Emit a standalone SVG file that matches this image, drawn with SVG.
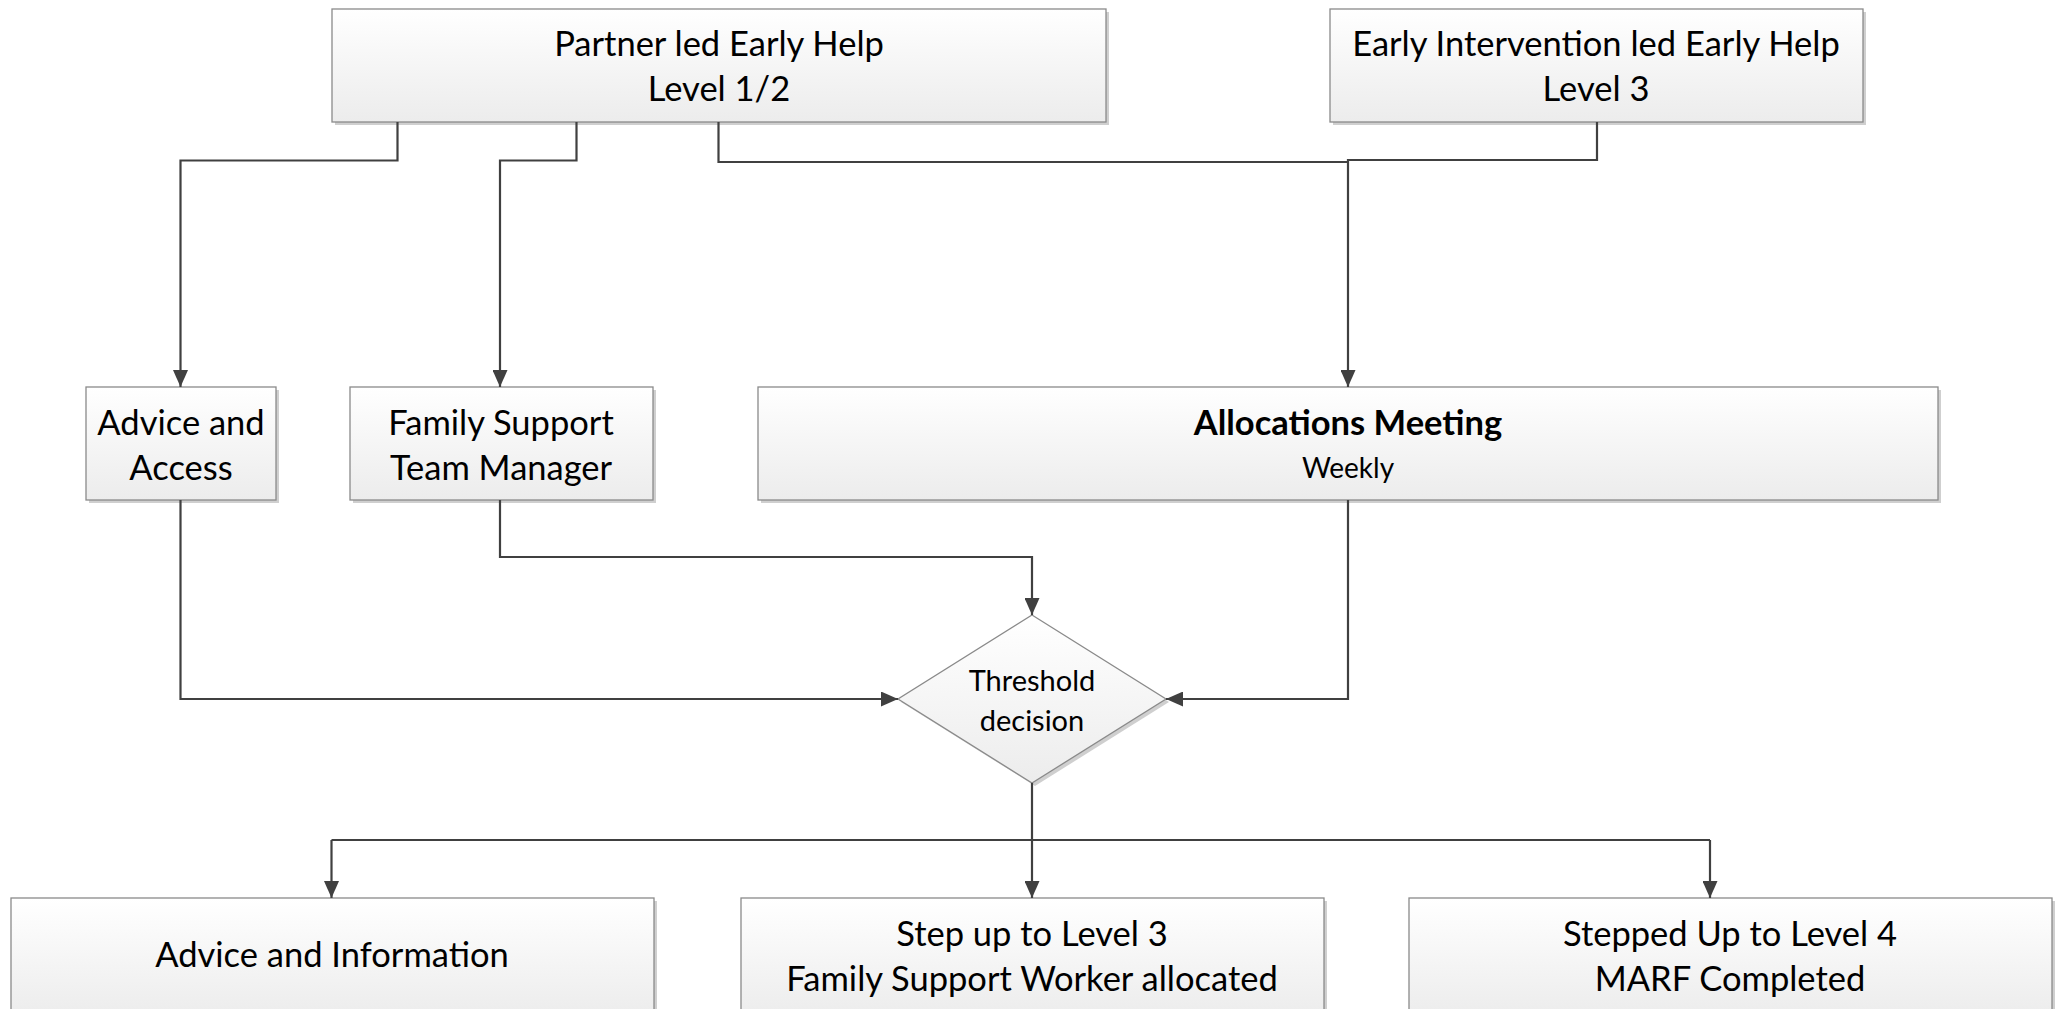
<svg xmlns="http://www.w3.org/2000/svg" width="2064" height="1009" viewBox="0 0 2064 1009">
<defs>
<linearGradient id="g" x1="0" y1="0" x2="0" y2="1">
<stop offset="0" stop-color="#ffffff"/>
<stop offset="1" stop-color="#ececec"/>
</linearGradient>
<marker id="arr" markerUnits="userSpaceOnUse" markerWidth="17" markerHeight="15" refX="17" refY="7.5" orient="auto">
<path d="M0,0 L17,7.5 L0,15 Z" fill="#404040"/>
</marker>
</defs>
<style>
.box{fill:url(#g);stroke:#8a8a8a;stroke-width:1.3}
.sh{fill:#cfcfcf}
.t{font-family:Lato,"Open Sans",sans-serif;font-size:34.5px;fill:#000;text-anchor:middle;dominant-baseline:central}
.b{font-weight:bold}
.s{font-size:28px}
.m{font-size:29px}
.c{fill:none;stroke:#404040;stroke-width:2.2;marker-end:url(#arr)}
.c2{fill:none;stroke:#404040;stroke-width:2.2}
</style>
<rect width="2064" height="1009" fill="#fff"/>

<g id="partner">
<rect class="sh" x="335" y="12" width="774" height="113"/>
<rect class="box" x="332" y="9" width="774" height="113"/>
<text class="t" x="719" y="42">Partner led Early Help</text>
<text class="t" x="719" y="87">Level 1/2</text>
</g>
<g id="early-intervention">
<rect class="sh" x="1333" y="12" width="533" height="113"/>
<rect class="box" x="1330" y="9" width="533" height="113"/>
<text class="t" x="1596" y="42">Early Intervention led Early Help</text>
<text class="t" x="1596" y="87">Level 3</text>
</g>
<g id="advice-access">
<rect class="sh" x="89" y="390" width="190" height="113"/>
<rect class="box" x="86" y="387" width="190" height="113"/>
<text class="t" x="181" y="421">Advice and</text>
<text class="t" x="181" y="466">Access</text>
</g>
<g id="fstm">
<rect class="sh" x="353" y="390" width="303" height="113"/>
<rect class="box" x="350" y="387" width="303" height="113"/>
<text class="t" x="501" y="421">Family Support</text>
<text class="t" x="501" y="466">Team Manager</text>
</g>
<g id="allocations">
<rect class="sh" x="761" y="390" width="1180" height="113"/>
<rect class="box" x="758" y="387" width="1180" height="113"/>
<text class="t b" x="1348" y="421">Allocations Meeting</text>
<text class="t s" x="1348" y="467">Weekly</text>
</g>
<g id="threshold">
<polygon class="sh" points="1035,618 1169,702 1035,786 901,702"/>
<polygon class="box" points="1032,615 1166,699 1032,783 898,699"/>
<text class="t m" x="1032" y="679">Threshold</text>
<text class="t m" x="1032" y="719">decision</text>
</g>
<g id="advice-info">
<rect class="sh" x="14" y="901" width="643" height="120"/>
<rect class="box" x="11" y="898" width="643" height="120"/>
<text class="t" x="332" y="953">Advice and Information</text>
</g>
<g id="step-up-3">
<rect class="sh" x="744" y="901" width="583" height="120"/>
<rect class="box" x="741" y="898" width="583" height="120"/>
<text class="t" x="1032" y="932">Step up to Level 3</text>
<text class="t" x="1032" y="977">Family Support Worker allocated</text>
</g>
<g id="step-up-4">
<rect class="sh" x="1412" y="901" width="643" height="120"/>
<rect class="box" x="1409" y="898" width="643" height="120"/>
<text class="t" x="1730" y="932">Stepped Up to Level 4</text>
<text class="t" x="1730" y="977">MARF Completed</text>
</g>

<g id="connectors">
<path class="c" d="M397.5,122 V160.5 H180.5 V387"/>
<path class="c" d="M576.5,122 V160.5 H500 V387"/>
<path class="c2" d="M718.5,122 V162 H1348"/>
<path class="c" d="M1597,122 V160 H1348 V387"/>
<path class="c" d="M180.5,500 V699 H898"/>
<path class="c" d="M500,500 V557 H1032 V615"/>
<path class="c" d="M1348,500 V699 H1166"/>
<path class="c2" d="M1032,783 V840"/>
<path class="c2" d="M331.5,840 H1710"/>
<path class="c" d="M331.5,840 V898"/>
<path class="c" d="M1032,840 V898"/>
<path class="c" d="M1710,840 V898"/>
</g>
</svg>
